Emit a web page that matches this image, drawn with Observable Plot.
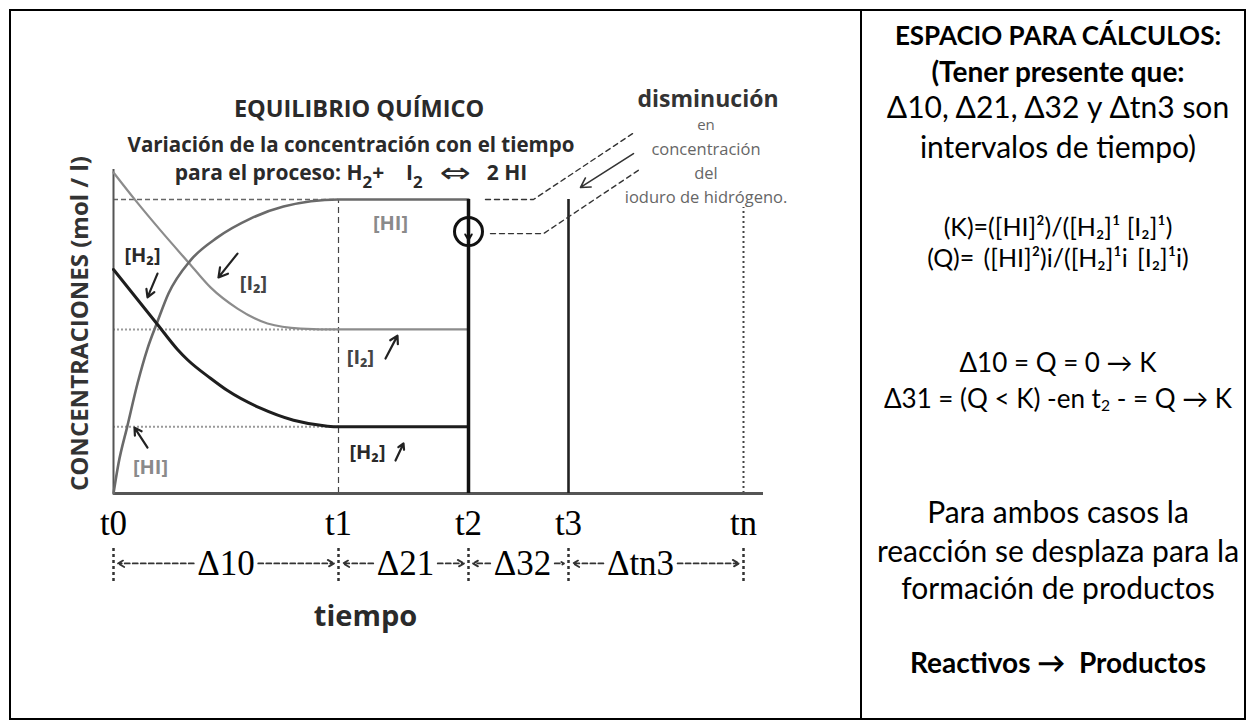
<!DOCTYPE html>
<html>
<head>
<meta charset="utf-8">
<script src="https://cdn.jsdelivr.net/npm/d3@7"></script>
<script src="https://cdn.jsdelivr.net/npm/@observablehq/plot@0.6"></script>
<style>
  html, body { margin: 0; padding: 0; background: #fff; }
  #page { position: relative; width: 1253px; height: 728px; overflow: hidden; background: #fff; }
  .frame { position: absolute; left: 9px; top: 9px; width: 1237px; height: 711px; border: 2px solid #000; box-sizing: border-box; }
  .divider { position: absolute; left: 860px; top: 9px; width: 2px; height: 711px; background: #000; }
  #chart { position: absolute; left: 0; top: 0; width: 860px; height: 728px; }
  .ct { position: absolute; transform: translate(-50%, -50%); white-space: nowrap; line-height: 1; font-family: "Open Sans", sans-serif; }
  .ct sub { font-size: 0.8em; vertical-align: -0.45em; line-height: 0; }
  .ct .dbl { display: inline-block; font-family: "DejaVu Sans"; font-weight: 400; font-size: 22px; line-height: 1; transform: scale(1.7, 1.25); margin: 0 12px; }
  .pl { position: absolute; left: 866px; width: 384px; text-align: center; white-space: nowrap; line-height: 34px; height: 34px; font-family: Lato, "Open Sans", sans-serif; color: #000; }
  .pl.small { line-height: 30px; height: 30px; }
  .pl sub { font-size: 0.6em; vertical-align: -0.2em; line-height: 0; }
</style>
</head>
<body>
<div id="page">
  <div class="frame"></div>
  <div class="divider"></div>
  <div id="chart"></div>

  <div class="ct" style="left:359px; top:109px; font-size:23.5px; font-weight:700; color:#2a2a2a;">EQUILIBRIO QUÍMICO</div>
  <div class="ct" style="left:351px; top:144px; font-size:20.5px; font-weight:700; color:#2a2a2a;">Variación de la concentración con el tiempo</div>
  <div class="ct" style="left:351px; top:173px; font-size:21px; font-weight:700; color:#2a2a2a;">para el proceso: H<sub>2</sub>+&nbsp;&nbsp;&nbsp; I<sub>2</sub>&nbsp;&nbsp;<span class="dbl">⇔</span>&nbsp;&nbsp;2 HI</div>

  <div class="ct" style="left:708px; top:98px; font-size:23px; font-weight:700; color:#333;">disminución</div>
  <div class="ct" style="left:706px; top:124px; font-size:15px; color:#666;">en</div>
  <div class="ct" style="left:706px; top:149px; font-size:16.5px; color:#666;">concentración</div>
  <div class="ct" style="left:706px; top:173px; font-size:16.5px; color:#666;">del</div>
  <div class="ct" style="left:706px; top:197px; font-size:16.5px; color:#666;">ioduro de hidrógeno.</div>

  <div class="pl" style="top:18px; font-size:26px; font-weight:700;">ESPACIO PARA CÁLCULOS:</div>
  <div class="pl" style="top:54px; font-size:28px; font-weight:700;">(Tener presente que:</div>
  <div class="pl" style="top:89px; font-size:30px;">Δ10, Δ21, Δ32 y Δtn3 son</div>
  <div class="pl" style="top:129px; font-size:30px;">intervalos de tiempo)</div>
  <div class="pl small" style="top:211px; font-size:25px;">(K)=([HI]²)/([H₂]¹ [I₂]¹)</div>
  <div class="pl small" style="top:242px; font-size:25px; word-spacing:3px;">(Q)= ([HI]²)i/([H₂]¹i [I₂]¹i)</div>
  <div class="pl" style="top:345px; font-size:26px;">Δ10 = Q = 0 → K</div>
  <div class="pl" style="top:381px; font-size:26px;">Δ31 = (Q &lt; K) -en t<sub>2</sub> - = Q → K</div>
  <div class="pl" style="top:494px; font-size:30px;">Para ambos casos la</div>
  <div class="pl" style="top:533px; font-size:30px;">reacción se desplaza para la</div>
  <div class="pl" style="top:570px; font-size:30px;">formación de productos</div>
  <div class="pl" style="top:645px; font-size:28px; font-weight:700;">Reactivos →&nbsp; Productos</div>
</div>

<script>
// ---------- data ----------
// time axis (arbitrary units) and its tick labels
const tTimes  = [0, 4.5, 7.1, 9.1, 12.6];
const tLabels = ["t0", "t1", "t2", "t3", "tn"];

// concentrations (relative units, [HI] at equilibrium = 1)
const hiTime = [0, 0.1, 0.28, 0.48, 0.68, 0.88, 1.1, 1.54, 2.08, 2.74, 3.4, 4.5, 7.1];
const hiConc = [0, 0.102, 0.231, 0.374, 0.493, 0.585, 0.680, 0.793, 0.871, 0.935, 0.976, 1.0, 1.0];

const i2Time = [0, 0.44, 0.94, 1.5, 1.94, 2.48, 3.08, 3.74, 4.5, 7.1];
const i2Conc = [1.092, 0.997, 0.895, 0.786, 0.701, 0.629, 0.578, 0.561, 0.558, 0.558];

const h2Time = [0, 0.48, 0.88, 1.28, 1.48, 1.94, 2.28, 2.94, 3.6, 4.28, 4.5, 7.1];
const h2Conc = [0.762, 0.660, 0.575, 0.490, 0.455, 0.392, 0.350, 0.290, 0.249, 0.229, 0.227, 0.227];

// equilibrium levels
const eqHI = 1.0, eqI2 = 0.558, eqH2 = 0.227;
const yAxisTop = 1.102, tnTop = 0.973;

// species labels inside the plot
const labelText    = ["[HI]", "[H₂]", "[I₂]", "[I₂]", "[H₂]", "[HI]"];
const labelSpecies = ["HI", "H2", "I2", "I2", "H2", "HI"];
const labelX = [5.54, 0.58, 2.80, 4.94, 5.08, 0.74];
const labelY = [0.918, 0.81, 0.714, 0.463, 0.139, 0.088];

// small pointer arrows next to the labels
const arrowX1 = [0.88, 2.48, 5.44, 5.64, 0.68];
const arrowY1 = [0.748, 0.816, 0.459, 0.112, 0.156];
const arrowX2 = [0.68, 2.10, 5.68, 5.80, 0.42];
const arrowY2 = [0.667, 0.735, 0.537, 0.170, 0.224];

// "disminución" annotation: two dashed leaders and one arrow, plus the circle at t2
const annUpperX = [7.44, 8.4, 10.38];
const annUpperY = [1.0, 1.0, 1.224];
const annLowerX = [7.54, 8.6, 10.52];
const annLowerY = [0.884, 0.884, 1.102];
const annArrow  = [10.4, 1.156, 9.34, 1.041];
const circleY = 0.891;
const circleArrowY = [0.928, 0.862];

// interval row under the axis
const deltaLabels = ["Δ10", "Δ21", "Δ32", "Δtn3"];
const deltaLabelX = [2.25, 5.84, 8.18, 10.54];
const deltaRowY = -0.238, deltaTickY = [-0.187, -0.303];

const yLabel = "CONCENTRACIONES (mol / l)";
const yLabelPos = [-0.66, 0.578];
const xLabel = "tiempo";
const xLabelPos = [5.04, -0.418];

// ---------- layout ----------
const W = 860, H = 728;
const mL = 113, mR = 97, mT = 140.2, mB = 235;
const xDomain = [0, 13], yDomain = [0, 1.2];
const pxPerX = (W - mL - mR) / (xDomain[1] - xDomain[0]);

const rows = (xs, ys) => xs.map((x, i) => ({x, y: ys[i]}));

// connectors of the interval row, sized from the measured label widths
const ctx = document.createElement("canvas").getContext("2d");
const deltaFont = 35;
ctx.font = `${deltaFont}px "Liberation Serif"`;
const connectors = [];
deltaLabels.forEach((lab, i) => {
  const a = tTimes[i], b = tTimes[i + 1], m = deltaLabelX[i];
  const hw = ctx.measureText(lab).width / 2 / pxPerX;
  const gap = 0.07, end = 0.09;
  if (m - hw - gap > a + end + 0.05) connectors.push({x1: m - hw - gap, x2: a + end});
  if (m + hw + gap < b - end - 0.05) connectors.push({x1: m + hw + gap, x2: b - end});
});

const speciesColor = {HI: "#8a8a8a", H2: "#2a2a2a", I2: "#444"};
const labels = labelText.map((t, i) => ({t, x: labelX[i], y: labelY[i], c: speciesColor[labelSpecies[i]]}));
const arrows = arrowX1.map((x1, i) => ({x1, y1: arrowY1[i], x2: arrowX2[i], y2: arrowY2[i]}));

const chart = Plot.plot({
  width: W, height: H,
  marginLeft: mL, marginRight: mR, marginTop: mT, marginBottom: mB,
  x: {domain: xDomain},
  y: {domain: yDomain, axis: null},
  style: {background: "transparent", overflow: "visible"},
  marks: [
    // equilibrium guide lines and t1 / tn verticals
    Plot.ruleY([eqHI], {x1: 0, x2: tTimes[1], stroke: "#666", strokeWidth: 1.6, strokeDasharray: "5,3"}),
    Plot.ruleY([eqI2, eqH2], {x1: 0, x2: tTimes[1], stroke: "#9a9a9a", strokeWidth: 2, strokeDasharray: "2,2"}),
    Plot.ruleX([tTimes[1]], {y1: 0, y2: eqHI, stroke: "#444", strokeWidth: 1.2, strokeDasharray: "6,4"}),
    Plot.ruleX([tTimes[4]], {y1: 0, y2: tnTop, stroke: "#444", strokeWidth: 2, strokeDasharray: "2,3"}),
    // axis lines
    Plot.ruleX([0], {y1: 0, y2: yAxisTop, stroke: "#555", strokeWidth: 2}),
    Plot.ruleY([0], {stroke: "#555", strokeWidth: 3}),
    // concentration curves
    Plot.line(rows(i2Time, i2Conc), {x: "x", y: "y", stroke: "#8c8c8c", strokeWidth: 2.2, curve: "monotone-x"}),
    Plot.line(rows(hiTime, hiConc), {x: "x", y: "y", stroke: "#6a6a6a", strokeWidth: 2.6, curve: "monotone-x"}),
    Plot.line(rows(h2Time, h2Conc), {x: "x", y: "y", stroke: "#1e1e1e", strokeWidth: 3, curve: "monotone-x"}),
    // t2 and t3 verticals
    Plot.ruleX([tTimes[2]], {y1: 0, y2: eqHI, stroke: "#111", strokeWidth: 3.5}),
    Plot.ruleX([tTimes[3]], {y1: 0, y2: eqHI, stroke: "#222", strokeWidth: 2.6}),
    // circle with arrow at t2
    Plot.dot([0], {x: tTimes[2], y: circleY, r: 14, stroke: "#111", strokeWidth: 3, fill: "none"}),
    Plot.arrow([0], {x1: tTimes[2], x2: tTimes[2], y1: circleArrowY[0], y2: circleArrowY[1], stroke: "#111", strokeWidth: 2, headLength: 7}),
    // annotation leaders
    Plot.line(rows(annUpperX, annUpperY), {x: "x", y: "y", stroke: "#333", strokeWidth: 1.4, strokeDasharray: "5,4"}),
    Plot.line(rows(annLowerX, annLowerY), {x: "x", y: "y", stroke: "#333", strokeWidth: 1.4, strokeDasharray: "5,4"}),
    Plot.arrow([0], {x1: annArrow[0], y1: annArrow[1], x2: annArrow[2], y2: annArrow[3], stroke: "#333", strokeWidth: 1.6, headLength: 10}),
    // species labels and pointers
    Plot.arrow(arrows, {x1: "x1", y1: "y1", x2: "x2", y2: "y2", stroke: "#222", strokeWidth: 2.2, headLength: 7}),
    Plot.text(labels, {x: "x", y: "y", text: "t", fill: d => d.c, fontSize: 20, fontWeight: "bold", fontFamily: "Open Sans"}),
    // axis tick labels
    Plot.axisX(tTimes, {tickFormat: d => tLabels[tTimes.indexOf(d)], tickSize: 0, tickPadding: 17,
      fontSize: 35, fontFamily: "Liberation Serif", fill: "#000", label: null}),
    // interval row
    Plot.ruleX(tTimes, {y1: deltaTickY[0], y2: deltaTickY[1], stroke: "#333", strokeWidth: 2.5, strokeDasharray: "3,3"}),
    Plot.arrow(connectors, {x1: "x1", x2: "x2", y1: deltaRowY, y2: deltaRowY, stroke: "#333", strokeWidth: 1.8, strokeDasharray: "5,3", headLength: 6}),
    Plot.text(deltaLabels, {x: (d, i) => deltaLabelX[i], y: deltaRowY, text: d => d, fontSize: deltaFont, fontFamily: "Liberation Serif", fill: "#000"}),
    // axis titles
    Plot.text([yLabel], {x: yLabelPos[0], y: yLabelPos[1], text: d => d, rotate: -90, fontSize: 24, fontWeight: "bold", fontFamily: "Open Sans", fill: "#333"}),
    Plot.text([xLabel], {x: xLabelPos[0], y: xLabelPos[1], text: d => d, fontSize: 29, fontWeight: "bold", fontFamily: "Open Sans", fill: "#2a2a2a"})
  ]
});
document.getElementById("chart").appendChild(chart);
</script>
</body>
</html>
